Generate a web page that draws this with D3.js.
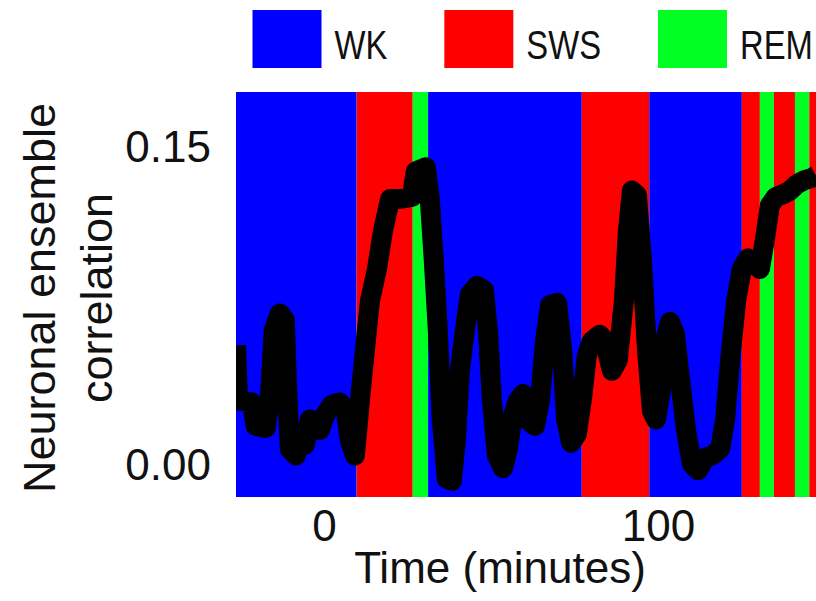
<!DOCTYPE html>
<html>
<head>
<meta charset="utf-8">
<script src="https://cdn.jsdelivr.net/npm/d3@7"></script>
<style>
body { margin: 0; background: #fff; }
text { font-family: "Liberation Sans", Arial, sans-serif; fill: #111; }
</style>
</head>
<body>
<div id="run"></div>
<script>
var width = 816,
    height = 601;

// sleep stages + colours
var stages = ["WK", "SWS", "REM"];
var stageColors = ["#0000ff", "#ff0000", "#00ff22"];

// hypnogram epochs (start time in minutes, stage)
var epochStart = [-26.3, 9.8, 26.6, 31.2, 77.2, 97.4, 125.1, 130.5, 134.7, 141.0, 145.3];
var epochStage = ["WK", "SWS", "REM", "WK", "SWS", "WK", "SWS", "REM", "SWS", "REM", "SWS"];

// ensemble correlation trace
var timeMin = [-26.3, -25.7, -21.6, -20.4, -17.4, -16.2, -15.0, -13.2, -11.7, -11.1, -10.2, -8.4,
    -7.2, -5.7, -4.2, -2.7, -1.2, 0.3, 2.4, 4.8, 6.6, 7.8, 9.3, 10.8, 12.3, 13.8, 15.9, 17.7,
    19.8, 22.8, 26.3, 27.5, 30.5, 31.7, 32.9, 34.1, 35.3, 36.8, 38.3, 39.5, 40.7, 42.2, 43.7,
    45.8, 47.9, 49.1, 50.3, 51.8, 53.6, 55.1, 56.3, 58.1, 59.6, 60.8, 63.2, 64.7, 66.2, 67.7,
    69.8, 71.3, 72.5, 74.0, 75.7, 77.2, 78.7, 80.2, 82.6, 84.1, 86.2, 88.0, 89.8, 91.0, 92.2,
    93.7, 95.2, 96.7, 98.2, 99.4, 100.9, 102.1, 103.6, 105.1, 106.6, 108.4, 110.2, 112.0, 114.1,
    116.2, 118.6, 120.1, 121.6, 123.4, 125.1, 126.9, 129.0, 130.5, 132.0, 133.5, 135.3, 137.1,
    139.5, 141.6, 144.0, 146.1, 147.3];
var correlation = [0.056, 0.030, 0.029, 0.018, 0.017, 0.030, 0.063, 0.071, 0.068, 0.040, 0.007, 0.004,
    0.011, 0.009, 0.021, 0.018, 0.016, 0.023, 0.028, 0.029, 0.025, 0.011, 0.004, 0.030, 0.054, 0.077, 0.092, 0.110,
    0.125, 0.125, 0.126, 0.138, 0.140, 0.125, 0.096, 0.063, 0.021, -0.007, -0.008, 0.011, 0.044, 0.063, 0.080,
    0.084, 0.082, 0.063, 0.030, 0.004, -0.002, 0.007, 0.021, 0.030, 0.033, 0.021, 0.018, 0.030, 0.058, 0.075,
    0.076, 0.054, 0.021, 0.010, 0.014, 0.030, 0.051, 0.058, 0.061, 0.058, 0.044, 0.049, 0.077, 0.110, 0.129,
    0.127, 0.096, 0.054, 0.025, 0.021, 0.035, 0.058, 0.067, 0.061, 0.040, 0.016, 0.000, -0.003, 0.003,
    0.004, 0.007, 0.021, 0.049, 0.077, 0.092, 0.097, 0.095, 0.092, 0.106, 0.122, 0.126, 0.127,
    0.129, 0.132, 0.134, 0.135, 0.136];

var xDomain = [-26.3, 147.3];
var yDomain = [-0.0156, 0.1755];
var xTicks = [0, 100];
var yTicks = [0, 0.15];

var margin = {top: 92, right: 0, bottom: 104, left: 236};
var w = width - margin.left - margin.right,
    h = height - margin.top - margin.bottom;

var svg = d3.select("#run").append("svg")
    .attr("width", width)
    .attr("height", height);

var x = d3.scaleLinear().domain(xDomain).range([0, w]);
var y = d3.scaleLinear().domain(yDomain).range([h, 0]);
var color = d3.scaleOrdinal().domain(stages).range(stageColors);

var g = svg.append("g")
    .attr("transform", "translate(" + margin.left + "," + margin.top + ")");

g.append("clipPath").attr("id", "plotclip")
  .append("rect")
    .attr("width", w)
    .attr("height", h);

// stage bands
var epochs = epochStart.map(function(s, i) {
    return {start: s, end: i < epochStart.length - 1 ? epochStart[i + 1] : xDomain[1], stage: epochStage[i]};
});

g.selectAll("rect.band")
    .data(epochs)
  .enter().append("rect")
    .attr("class", "band")
    .attr("x", function(d) { return x(d.start); })
    .attr("width", function(d) { return x(d.end) - x(d.start); })
    .attr("y", 0)
    .attr("height", h)
    .style("fill", function(d) { return color(d.stage); });

// trace
var line = d3.line()
    .x(function(d) { return x(d[0]); })
    .y(function(d) { return y(d[1]); });

g.append("path")
    .datum(d3.zip(timeMin, correlation))
    .attr("clip-path", "url(#plotclip)")
    .attr("d", line)
    .style("fill", "none")
    .style("stroke", "#000")
    .style("stroke-width", 20)
    .style("stroke-linejoin", "round");

// axes
var xAxis = g.append("g")
    .attr("transform", "translate(0," + h + ")")
    .call(d3.axisBottom(x).tickValues(xTicks).tickSize(0).tickPadding(12));
xAxis.select(".domain").remove();
xAxis.selectAll("text")
    .attr("dy", null)
    .attr("y", 44)
    .style("font-size", "44px")
    .style("fill", "#111");

var yAxis = g.append("g")
    .call(d3.axisLeft(y).tickValues(yTicks).tickFormat(d3.format(".2f")).tickSize(0).tickPadding(25));
yAxis.select(".domain").remove();
yAxis.selectAll("text")
    .attr("dy", "0.36em")
    .style("font-size", "44px")
    .style("fill", "#111");

// axis titles
svg.append("text")
    .attr("x", 500)
    .attr("y", 583)
    .attr("text-anchor", "middle")
    .style("font-size", "44px")
    .text("Time (minutes)");

var yTitle = svg.append("text")
    .attr("transform", "translate(55,298) rotate(-90)")
    .attr("text-anchor", "middle")
    .style("font-size", "45px");
yTitle.append("tspan").attr("x", 0).attr("y", 0).text("Neuronal ensemble");
yTitle.append("tspan").attr("x", 0).attr("y", 57).text("correlation");

// legend
var legend = svg.append("g");
var lx = 252.5;
stages.forEach(function(s) {
    legend.append("rect")
        .attr("x", lx)
        .attr("y", 10)
        .attr("width", 69)
        .attr("height", 58)
        .style("fill", color(s));
    var t = legend.append("text")
        .attr("transform", "translate(" + (lx + 69 + 13) + ",59) scale(0.82,1)")
        .style("font-size", "40px")
        .text(s);
    lx += 69 + 13 + t.node().getComputedTextLength() * 0.82 + 57;
});
</script>
</body>
</html>
